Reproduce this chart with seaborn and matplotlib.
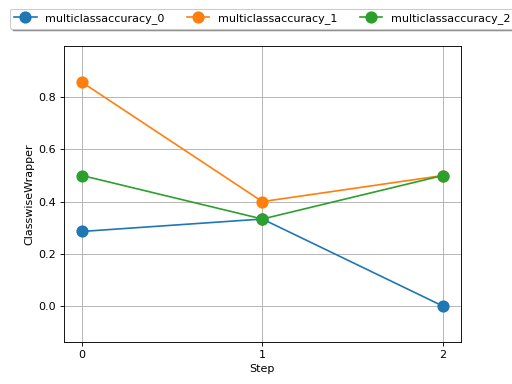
import matplotlib
matplotlib.use("Agg")
import matplotlib.pyplot as plt
import seaborn as sns
import pandas as pd

steps = [0, 1, 2]
series_names = ["multiclassaccuracy_0", "multiclassaccuracy_1", "multiclassaccuracy_2"]
acc_0 = [0.2857, 0.3333, 0.0]
acc_1 = [0.8571, 0.4, 0.5]
acc_2 = [0.5, 0.3333, 0.5]

rows = []
for name, vals in zip(series_names, [acc_0, acc_1, acc_2]):
    for s, v in zip(steps, vals):
        rows.append({"Step": s, "value": v, "series": name})
df = pd.DataFrame(rows)

fig, ax = plt.subplots(figsize=(6.4, 4.8), dpi=80)
sns.lineplot(data=df, x="Step", y="value", hue="series", marker="o", markersize=11,
             markeredgewidth=0, palette=["#1f77b4", "#ff7f0e", "#2ca02c"], ax=ax)
ax.set_xticks(steps)
ax.set_xlim(-0.1, 2.1)
ax.set_ylim(-0.137, 0.996)
ax.set_ylabel("ClasswiseWrapper")
ax.set_xlabel("Step")
ax.grid(True)
ax.legend(loc="upper center", bbox_to_anchor=(0.5, 1.145), ncol=3, shadow=True, fancybox=True)
fig.savefig("out.png", dpi=80)
